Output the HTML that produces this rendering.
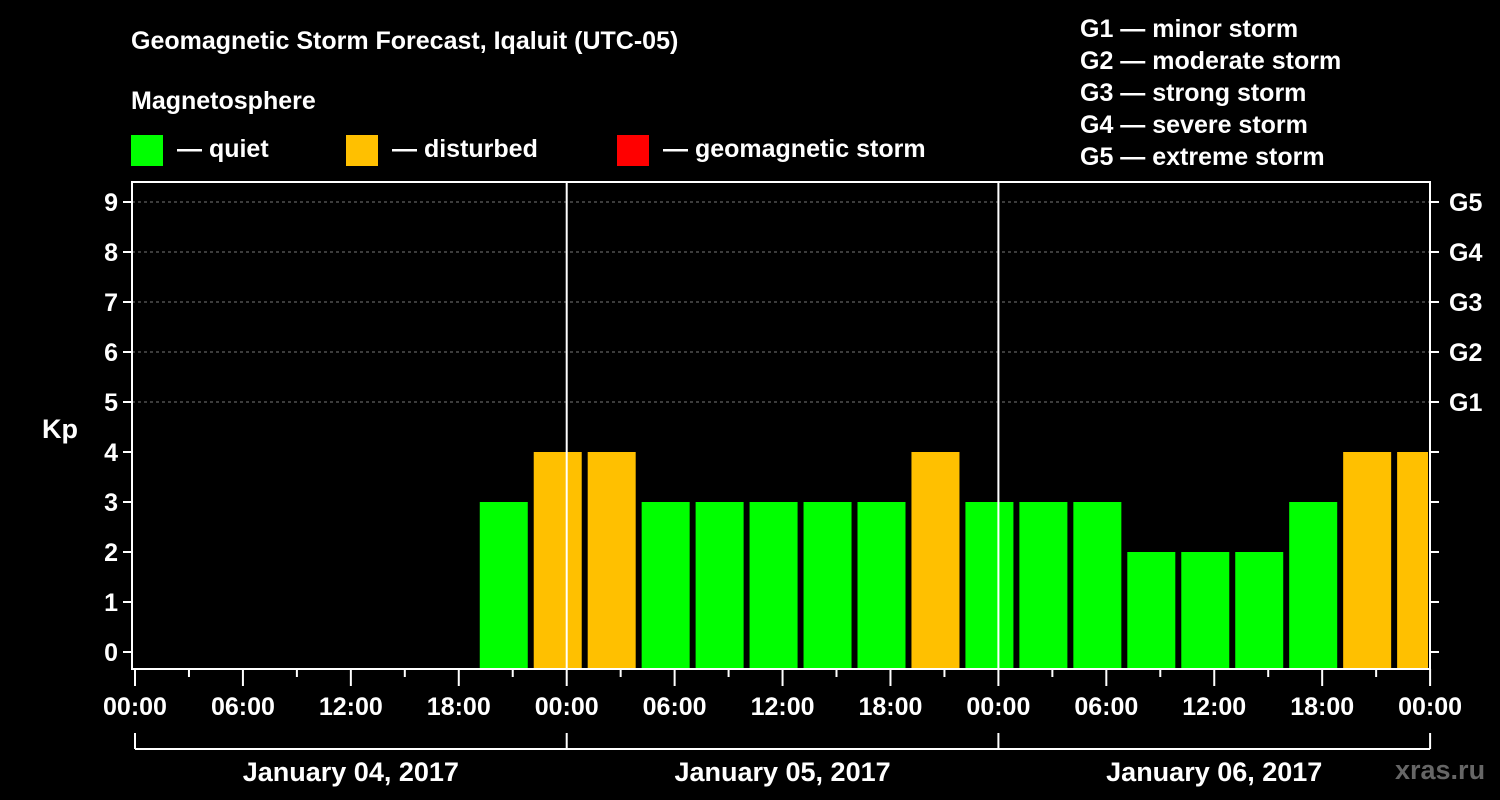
<!DOCTYPE html>
<html><head><meta charset="utf-8"><style>
html,body{margin:0;padding:0;background:#000;}
svg{display:block;font-family:"Liberation Sans",sans-serif;font-weight:bold;}
</style></head><body>
<svg width="1500" height="800" viewBox="0 0 1500 800">
<rect x="0" y="0" width="1500" height="800" fill="#000"/>
<text x="131" y="49" fill="#fff" font-size="25">Geomagnetic Storm Forecast, Iqaluit (UTC-05)</text>
<text x="131" y="109" fill="#fff" font-size="25">Magnetosphere</text>
<g><rect x="131" y="135" width="32" height="31" fill="#00ff00"/><text x="177" y="157" fill="#fff" font-size="25">— quiet</text></g>
<g><rect x="346" y="135" width="32" height="31" fill="#ffc000"/><text x="392" y="157" fill="#fff" font-size="25">— disturbed</text></g>
<g><rect x="617" y="135" width="32" height="31" fill="#ff0000"/><text x="663" y="157" fill="#fff" font-size="25">— geomagnetic storm</text></g>
<g fill="#fff" font-size="25">
<text x="1080" y="37">G1 — minor storm</text>
<text x="1080" y="69">G2 — moderate storm</text>
<text x="1080" y="101">G3 — strong storm</text>
<text x="1080" y="133">G4 — severe storm</text>
<text x="1080" y="165">G5 — extreme storm</text>
</g>
<text x="42" y="438" fill="#fff" font-size="27">Kp</text>
<text x="1395" y="779" fill="#666" font-size="27">xras.ru</text>
<g id="plot"></g>
</svg>
<script>
const kpValues = [3,4,4,3,3,3,3,3,4,3,3,3,2,2,2,3,4,4];
const startHour = 19;
const yTicks = [0,1,2,3,4,5,6,7,8,9];
const gLabels = ["","","","","","G1","G2","G3","G4","G5"];
const xLabels = ["00:00","06:00","12:00","18:00","00:00","06:00","12:00","18:00","00:00","06:00","12:00","18:00","00:00"];
const dateLabels = ["January 04, 2017","January 05, 2017","January 06, 2017"];
const NS="http://www.w3.org/2000/svg";
const X0=135, PXH=431.7/24, L=132, R=1430, T=182, B=669;
const xs=h=>X0+h*PXH;
const ys=k=>652-50*k;
const g=document.getElementById('plot');
function el(t,a,p){const e=document.createElementNS(NS,t);for(const k in a)e.setAttribute(k,a[k]);(p||g).appendChild(e);return e;}
// grid
yTicks.forEach(k=>{
 if(k>=5){const l=el('line',{x1:L,x2:R,y1:ys(k),y2:ys(k),stroke:'#777','stroke-dasharray':'3,3','stroke-width':1});
 
 }
 const tl=el('line',{x1:L-9,x2:L,y1:ys(k),y2:ys(k),stroke:'#fff','stroke-width':2});
 
 
 const tr=el('line',{x1:R,x2:R+9,y1:ys(k),y2:ys(k),stroke:'#fff','stroke-width':2});
 
 
 const t=el('text',{x:L-14,y:ys(k)+9,fill:'#fff','font-size':25,'text-anchor':'end'});t.textContent=k;
 
 
 if(gLabels[k]){const gt=el('text',{x:1449,y:ys(k)+9,fill:'#fff','font-size':25});gt.textContent=gLabels[k];
 
 }
});
// bars
kpValues.forEach((v,i)=>{
 const h0=startHour+3*i;const x=xs(h0)+3;const w=Math.min(48,R-2-x);
 const r=el('rect',{x:x,y:ys(v),width:w,height:ys(0)+16-ys(v),fill:v>=5?'#ff0000':(v>=4?'#ffc000':'#00ff00')});
 
 
});
// day separators
[1,2].forEach(d=>{const l=el('line',{x1:xs(24*d),x2:xs(24*d),y1:T,y2:B,stroke:'#fff','stroke-width':2});
 
 });
// frame
const f=el('rect',{x:L,y:T,width:R-L,height:B-T,fill:'none',stroke:'#fff','stroke-width':2});


// x ticks
for(let h=0;h<=72;h+=3){
 const major=h%6===0;
 const l=el('line',{x1:xs(h),x2:xs(h),y1:B,y2:B+(major?17:8),stroke:'#fff','stroke-width':2});
 
 
}
xLabels.forEach((s,i)=>{const t=el('text',{x:xs(6*i),y:715,fill:'#fff','font-size':25,'text-anchor':'middle'});t.textContent=s;
 
 });
// date bracket
const bl=el('line',{x1:xs(0),x2:xs(72),y1:749,y2:749,stroke:'#fff','stroke-width':2});


[0,1,2,3].forEach(d=>{const l=el('line',{x1:xs(24*d),x2:xs(24*d),y1:733,y2:749,stroke:'#fff','stroke-width':2});
 
 });
dateLabels.forEach((s,i)=>{const t=el('text',{x:xs(24*i+12),y:781,fill:'#fff','font-size':27,'text-anchor':'middle'});t.textContent=s;
 
 });
</script>
</body></html>
